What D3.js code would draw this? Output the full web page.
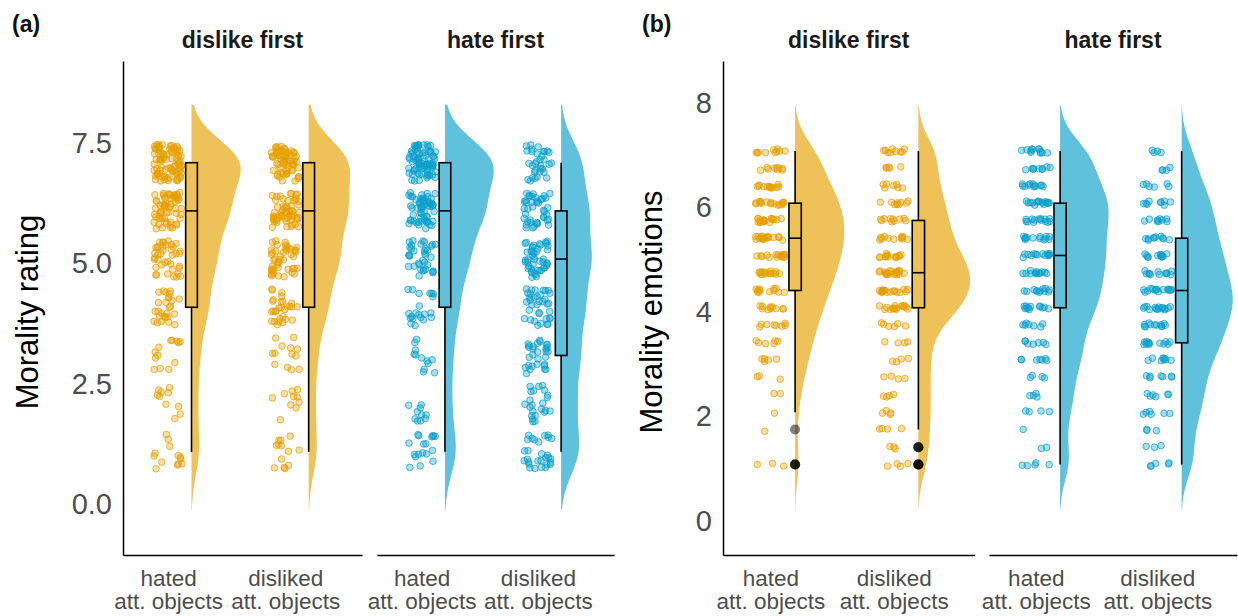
<!DOCTYPE html>
<html>
<head>
<meta charset="utf-8">
<script src="https://cdn.jsdelivr.net/npm/d3@7"></script>
<style>
  body { margin: 0; background: #fff; }
  svg { display: block; font-family: "Liberation Sans", Arial, Helvetica, sans-serif; }
</style>
</head>
<body>
<script>
'use strict';

// ---- data ----
var facets = ['dislike first', 'hate first'];
var categories = ['hated', 'disliked'];
var categoryLabels = [['hated', 'att. objects'], ['disliked', 'att. objects']];
var facetColors = ['#E69F00', '#0A9FCB'];

// (a) morality rating, counts per rating level
var ratingLevels = [1, 2, 3, 4, 5, 6, 7];
var ratingDislikeHated    = [13, 10, 13, 27, 39, 59, 85];
var ratingDislikeDisliked = [13, 10, 13, 29, 46, 58, 65];
var ratingHateHated       = [18, 10, 12, 21, 36, 59, 78];
var ratingHateDisliked    = [29, 23, 29, 36, 46, 42, 33];
var ratingTicks = [0, 2.5, 5, 7.5];

// (b) morality emotions, counts per level (mean of three items)
var emotionLevels = [1, 1.33, 1.67, 2, 2.33, 2.67, 3, 3.33, 3.67, 4,
                     4.33, 4.67, 5, 5.33, 5.67, 6, 6.33, 6.67, 7];
var emotionDislikeHated    = [3, 0, 1, 1, 2, 3, 5, 6, 8, 10, 12, 15, 16, 18, 18, 16, 13, 9, 10];
var emotionDislikeDisliked = [4, 3, 4, 4, 4, 4, 4, 4, 6, 16, 17, 20, 13, 11, 10, 9, 7, 5, 9];
var emotionHateHated       = [5, 2, 1, 4, 4, 4, 7, 7, 7, 12, 12, 13, 14, 13, 14, 16, 12, 9, 12];
var emotionHateDisliked    = [5, 3, 3, 6, 6, 7, 8, 12, 12, 15, 15, 12, 12, 10, 9, 9, 6, 4, 4];
var emotionTicks = [0, 2, 4, 6, 8];

// ---- layout ----
var width = 1238;
var height = 616;
var plotTop = 61, plotBottom = 555;

var panels = [
  {
    tag: '(a)', tagX: 12, title: 'Morality rating', titleX: 38,
    facetRanges: [[123, 362], [377, 614]],
    yDomain: [-1.14, 9.11], ticks: ratingTicks, fmt: '.1f',
    levels: ratingLevels,
    counts: [[ratingDislikeHated, ratingDislikeDisliked], [ratingHateHated, ratingHateDisliked]],
    bw: 0.5, jitterH: 0.38
  },
  {
    tag: '(b)', tagX: 642, title: 'Morality emotions', titleX: 662,
    facetRanges: [[723, 974.5], [989, 1237]],
    yDomain: [-0.73, 8.72], ticks: emotionTicks, fmt: 'd',
    levels: emotionLevels,
    counts: [[emotionDislikeHated, emotionDislikeDisliked], [emotionHateHated, emotionHateDisliked]],
    bw: 0.36, jitterH: 0.04
  }
];

var svg = d3.select('body').append('svg')
    .attr('width', width)
    .attr('height', height);

function gauss(u) {
  return Math.exp(-0.5 * u * u) / Math.sqrt(2 * Math.PI);
}

var seed = 1;

panels.forEach(function(p) {
  var y = d3.scaleLinear().domain(p.yDomain).range([plotBottom, plotTop]);
  var g = svg.append('g');

  // panel tag
  g.append('text')
    .attr('x', p.tagX).attr('y', 32)
    .attr('font-size', 23).attr('font-weight', 'bold').attr('fill', '#111')
    .text(p.tag);

  // y axis title
  g.append('text')
    .attr('transform', 'translate(' + p.titleX + ',' + ((plotTop + plotBottom) / 2 + 4) + ') rotate(-90)')
    .attr('text-anchor', 'middle')
    .attr('font-size', 31).attr('fill', '#000')
    .text(p.title);

  // y axis
  var ya = g.append('g')
    .attr('transform', 'translate(' + p.facetRanges[0][0] + ',0)')
    .call(d3.axisLeft(y).tickValues(p.ticks).tickFormat(d3.format(p.fmt)).tickSize(0).tickPadding(11));
  ya.attr('font-family', null).attr('font-size', 29);
  ya.select('.domain').attr('stroke', '#000').attr('stroke-width', 1.5);
  ya.selectAll('.tick text').attr('fill', '#4d4d4d').attr('dy', '0.47em');

  p.facetRanges.forEach(function(r, fi) {
    var x = d3.scalePoint().domain(categories).range(r).padding(0.52).align(0.37);
    var step = x.step();
    var color = facetColors[fi];
    var soft = d3.interpolateRgb('#ffffff', color)(0.65);
    var fg = g.append('g');

    // strip title
    fg.append('text')
      .attr('x', (r[0] + r[1]) / 2).attr('y', 48)
      .attr('text-anchor', 'middle')
      .attr('font-size', 23).attr('font-weight', 'bold').attr('fill', '#1a1a1a')
      .text(facets[fi]);

    // x axis
    var xa = fg.append('g')
      .attr('transform', 'translate(0,' + plotBottom + ')')
      .call(d3.axisBottom(x).tickSize(0).tickPadding(0));
    xa.attr('font-family', null).attr('font-size', 22.5);
    xa.select('.domain').attr('stroke', '#000').attr('stroke-width', 1.5);
    xa.selectAll('.tick text').each(function(d, i) {
      var t = d3.select(this).text(null).attr('dy', null).attr('y', null).attr('fill', '#4d4d4d');
      t.append('tspan').attr('x', 0).attr('y', 31).text(categoryLabels[i][0]);
      t.append('tspan').attr('x', 0).attr('y', 54).text(categoryLabels[i][1]);
    });

    // stats and densities per category
    var groups = categories.map(function(c, ci) {
      var counts = p.counts[fi][ci];
      var values = [];
      p.levels.forEach(function(v, k) {
        for (var j = 0; j < counts[k]; j++) values.push(v);
      });
      values.sort(d3.ascending);
      var n = values.length;
      var q1 = d3.quantile(values, 0.25);
      var med = d3.quantile(values, 0.5);
      var q3 = d3.quantile(values, 0.75);
      var iqr = q3 - q1;
      var loF = q1 - 1.5 * iqr, hiF = q3 + 1.5 * iqr;
      var inside = values.filter(function(v) { return v >= loF && v <= hiF; });
      var lo = d3.min(values) - 2.4 * p.bw, hi = d3.max(values) + 2.4 * p.bw;
      var grid = d3.range(0, 241).map(function(i) { return lo + (hi - lo) * i / 240; });
      var dens = grid.map(function(t) {
        var s = d3.sum(p.levels, function(v, k) { return counts[k] * gauss((t - v) / p.bw); });
        return [t, s / (n * p.bw)];
      });
      return {
        cat: c, values: values, q1: q1, med: med, q3: q3,
        wLo: d3.min(inside), wHi: d3.max(inside),
        outliers: values.filter(function(v) { return v < loF || v > hiF; }),
        dens: dens
      };
    });

    var maxD = d3.max(groups, function(gr) { return d3.max(gr.dens, function(d) { return d[1]; }); });
    var w = d3.scaleLinear().domain([0, maxD]).range([0, 0.42 * step]);

    groups.forEach(function(gr) {
      var cx = x(gr.cat);
      var bx = cx + 0.2 * step;
      var boxW = 0.1 * step;

      // half violin
      fg.append('path')
        .datum(gr.dens)
        .attr('fill', soft)
        .attr('d', d3.area()
          .y(function(d) { return y(d[0]); })
          .x0(bx)
          .x1(function(d) { return bx + w(d[1]); }));

      // jittered raw points
      var rnd = d3.randomLcg(seed * 0.0731 + 0.013);
      seed++;
      fg.append('g').selectAll('circle')
        .data(gr.values)
        .join('circle')
        .attr('cx', function() { return cx + (rnd() * 2 - 1) * 0.12 * step; })
        .attr('cy', function(v) { return y(v + (rnd() * 2 - 1) * p.jitterH); })
        .attr('r', 3.3)
        .attr('fill', color).attr('fill-opacity', 0.35)
        .attr('stroke', color).attr('stroke-opacity', 0.7).attr('stroke-width', 1);

      // whiskers
      fg.append('line')
        .attr('x1', bx).attr('x2', bx)
        .attr('y1', y(gr.wHi)).attr('y2', y(gr.q3))
        .attr('stroke', '#000').attr('stroke-width', 1.6);
      fg.append('line')
        .attr('x1', bx).attr('x2', bx)
        .attr('y1', y(gr.q1)).attr('y2', y(gr.wLo))
        .attr('stroke', '#000').attr('stroke-width', 1.6);

      // box
      fg.append('rect')
        .attr('x', bx - boxW / 2).attr('width', boxW)
        .attr('y', y(gr.q3)).attr('height', y(gr.q1) - y(gr.q3))
        .attr('fill', soft)
        .attr('stroke', '#000').attr('stroke-width', 1.6);
      fg.append('line')
        .attr('x1', bx - boxW / 2).attr('x2', bx + boxW / 2)
        .attr('y1', y(gr.med)).attr('y2', y(gr.med))
        .attr('stroke', '#000').attr('stroke-width', 1.6);

      // outliers
      fg.append('g').selectAll('circle')
        .data(gr.outliers)
        .join('circle')
        .attr('cx', bx)
        .attr('cy', function(v) { return y(v); })
        .attr('r', 5)
        .attr('fill', '#000').attr('fill-opacity', 0.5);
    });
  });
});
</script>
</body>
</html>
